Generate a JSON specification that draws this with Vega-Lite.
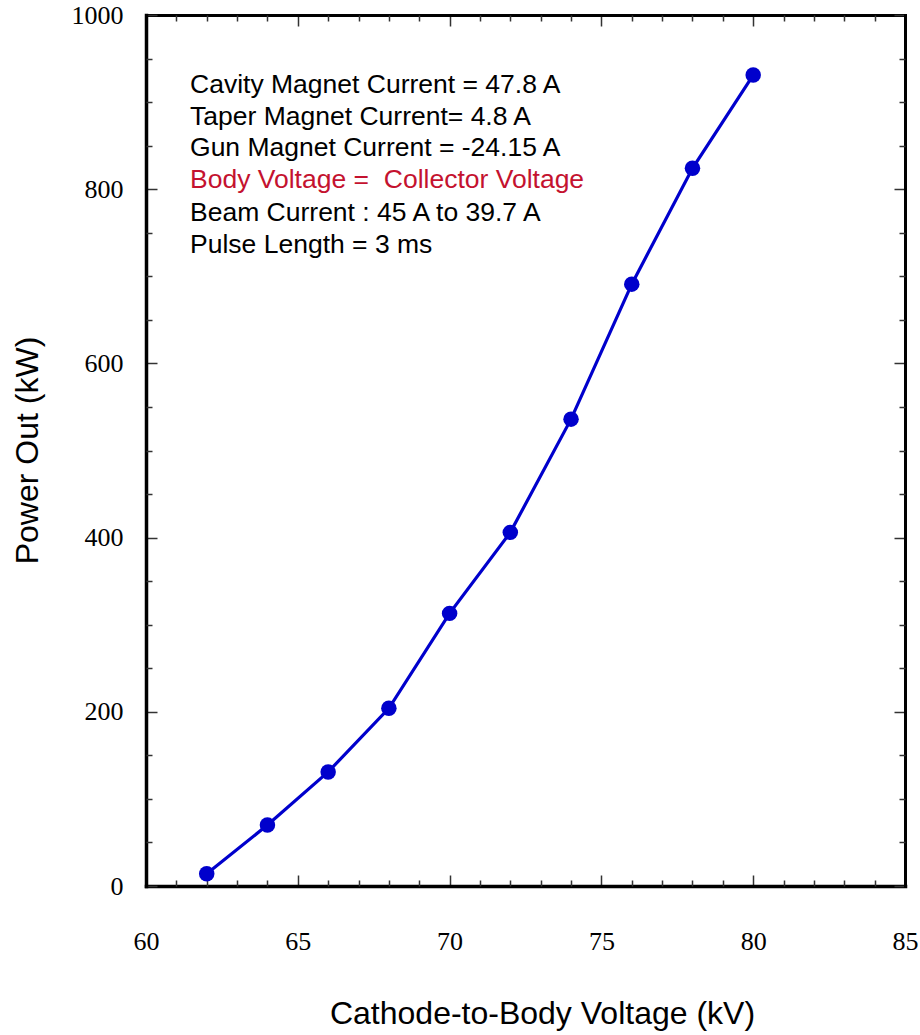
{
  "$schema": "https://vega.github.io/schema/vega-lite/v6.json",
  "width": 759,
  "height": 871,
  "autosize": {"type": "none"},
  "padding": {"left": 146, "top": 15, "right": 15, "bottom": 149},
  "background": "white",
  "config": {"view": {"stroke": null}},
  "datasets": {
    "power": [
      {"voltage": 62, "power": 14},
      {"voltage": 64, "power": 70},
      {"voltage": 66, "power": 131},
      {"voltage": 68, "power": 204},
      {"voltage": 70, "power": 313},
      {"voltage": 72, "power": 406},
      {"voltage": 74, "power": 536},
      {"voltage": 76, "power": 691},
      {"voltage": 78, "power": 824},
      {"voltage": 80, "power": 931}
    ],
    "notes": [
      {"x": 61.45, "y": 920, "label": "Cavity Magnet Current = 47.8 A", "kind": "black"},
      {"x": 61.45, "y": 883, "label": "Taper Magnet Current= 4.8 A", "kind": "black"},
      {"x": 61.45, "y": 847, "label": "Gun Magnet Current = -24.15 A", "kind": "black"},
      {"x": 61.45, "y": 811, "label": "Body Voltage =\u00a0 Collector Voltage", "kind": "red"},
      {"x": 61.45, "y": 773, "label": "Beam Current : 45 A to 39.7 A", "kind": "black"},
      {"x": 61.45, "y": 736, "label": "Pulse Length = 3 ms", "kind": "black"}
    ]
  },
  "resolve": {"axis": {"x": "independent", "y": "independent"}},
  "layer": [
    {
      "data": {"name": "power"},
      "mark": {"type": "line", "color": "#0000CC", "strokeWidth": 3.2},
      "encoding": {
        "x": {
          "field": "voltage", "type": "quantitative",
          "scale": {"domain": [60, 85], "nice": false, "zero": false},
          "axis": {
            "orient": "bottom", "values": [60, 65, 70, 75, 80, 85], "format": "d",
            "tickSize": -11, "tickWidth": 1.5, "tickColor": "#333333",
            "domain": true, "domainColor": "black", "domainWidth": 3.5, "domainCap": "square",
            "grid": false,
            "labelFont": "Liberation Serif", "labelFontSize": 26, "labelColor": "black",
            "labelPadding": 53, "labelBaseline": "top", "labelFlush": false,
            "title": "Cathode-to-Body Voltage (kV)",
            "titleFont": "Liberation Sans", "titleFontSize": 32, "titleFontWeight": "normal", "titleColor": "black",
            "titleX": 396, "titleY": 137, "titleAlign": "center", "titleBaseline": "alphabetic"
          }
        },
        "y": {
          "field": "power", "type": "quantitative",
          "scale": {"domain": [0, 1000], "nice": false, "zero": false},
          "axis": {
            "orient": "left", "values": [0, 200, 400, 600, 800, 1000], "format": "d",
            "tickSize": -11, "tickWidth": 1.5, "tickColor": "#333333",
            "domain": true, "domainColor": "black", "domainWidth": 3.5, "domainCap": "square",
            "grid": false,
            "labelFont": "Liberation Serif", "labelFontSize": 26, "labelColor": "black",
            "labelPadding": 34, "labelBaseline": "middle", "labelFlush": false,
            "title": "Power Out (kW)",
            "titleFont": "Liberation Sans", "titleFontSize": 32, "titleFontWeight": "normal", "titleColor": "black",
            "titleX": -109, "titleY": 435, "titleAngle": 270, "titleAlign": "center", "titleBaseline": "alphabetic"
          }
        }
      }
    },
    {
      "data": {"name": "power"},
      "mark": {"type": "point", "filled": true, "color": "#0000CC", "size": 240, "opacity": 1},
      "encoding": {
        "x": {
          "field": "voltage", "type": "quantitative",
          "scale": {"domain": [60, 85], "nice": false, "zero": false},
          "axis": {
            "orient": "bottom", "values": [61, 62, 63, 64, 66, 67, 68, 69, 71, 72, 73, 74, 76, 77, 78, 79, 81, 82, 83, 84],
            "tickSize": -6, "tickWidth": 1.5, "tickColor": "#333333",
            "domain": false, "grid": false, "labels": false, "title": null
          }
        },
        "y": {
          "field": "power", "type": "quantitative",
          "scale": {"domain": [0, 1000], "nice": false, "zero": false},
          "axis": {
            "orient": "left", "values": [50, 100, 150, 250, 300, 350, 450, 500, 550, 650, 700, 750, 850, 900, 950],
            "tickSize": -6, "tickWidth": 1.5, "tickColor": "#333333",
            "domain": false, "grid": false, "labels": false, "title": null
          }
        }
      }
    },
    {
      "data": {"name": "notes"},
      "transform": [{"filter": "datum.kind === 'black'"}],
      "mark": {"type": "text", "align": "left", "baseline": "middle", "font": "Liberation Sans", "fontSize": 26.5, "color": "black"},
      "encoding": {
        "text": {"field": "label"},
        "x": {
          "field": "x", "type": "quantitative",
          "scale": {"domain": [60, 85], "nice": false, "zero": false},
          "axis": {
            "orient": "top", "values": [60, 65, 70, 75, 80, 85],
            "tickSize": -11, "tickWidth": 1.5, "tickColor": "#333333",
            "domain": true, "domainColor": "black", "domainWidth": 3, "domainCap": "square",
            "grid": false, "labels": false, "title": null
          }
        },
        "y": {
          "field": "y", "type": "quantitative",
          "scale": {"domain": [0, 1000], "nice": false, "zero": false},
          "axis": {
            "orient": "right", "values": [0, 200, 400, 600, 800, 1000],
            "tickSize": -11, "tickWidth": 1.5, "tickColor": "#333333",
            "domain": true, "domainColor": "black", "domainWidth": 3, "domainCap": "square",
            "grid": false, "labels": false, "title": null
          }
        }
      }
    },
    {
      "data": {"name": "notes"},
      "transform": [{"filter": "datum.kind === 'red'"}],
      "mark": {"type": "text", "align": "left", "baseline": "middle", "font": "Liberation Sans", "fontSize": 26.5, "color": "#C4122F"},
      "encoding": {
        "text": {"field": "label"},
        "x": {
          "field": "x", "type": "quantitative",
          "scale": {"domain": [60, 85], "nice": false, "zero": false},
          "axis": {
            "orient": "top", "values": [61, 62, 63, 64, 66, 67, 68, 69, 71, 72, 73, 74, 76, 77, 78, 79, 81, 82, 83, 84],
            "tickSize": -6, "tickWidth": 1.5, "tickColor": "#333333",
            "domain": false, "grid": false, "labels": false, "title": null
          }
        },
        "y": {
          "field": "y", "type": "quantitative",
          "scale": {"domain": [0, 1000], "nice": false, "zero": false},
          "axis": {
            "orient": "right", "values": [50, 100, 150, 250, 300, 350, 450, 500, 550, 650, 700, 750, 850, 900, 950],
            "tickSize": -6, "tickWidth": 1.5, "tickColor": "#333333",
            "domain": false, "grid": false, "labels": false, "title": null
          }
        }
      }
    }
  ]
}
